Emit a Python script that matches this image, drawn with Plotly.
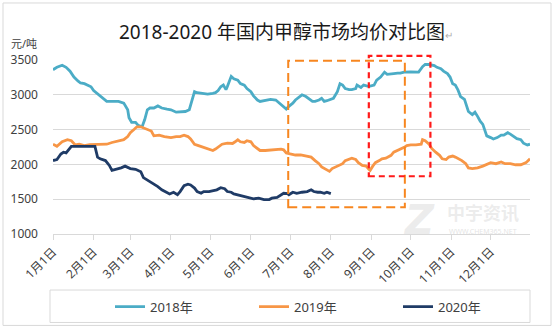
import plotly.graph_objects as go

# Day-of-year (0 = Jan 1) and average methanol price, yuan/ton
day_2018 = [0, 3, 7, 10, 13, 16, 19, 21, 24, 26, 29, 31, 35, 39, 41, 50, 54, 57, 58, 60,
            63, 65, 68, 70, 72, 74, 77, 80, 83, 87, 90, 94, 97, 101, 104, 106, 108, 110, 114, 118,
            122, 124, 126, 128, 130, 132, 133, 135, 136, 138, 141, 143, 146, 148, 151, 153, 156, 158, 162, 166,
            170, 172, 175, 178, 180, 183, 185, 188, 190, 193, 195, 198, 200, 203, 205, 207, 209, 212, 214, 217,
            219, 221, 223, 226, 228, 231, 232, 235, 237, 240, 242, 245, 247, 250, 253, 255, 258, 260, 263, 265,
            268, 273, 279, 282, 284, 287, 291, 293, 296, 298, 301, 303, 305, 307, 309, 311, 314, 315, 317, 320,
            322, 324, 326, 328, 330, 331, 334, 336, 339, 342, 344, 347, 349, 352, 354, 357, 359, 362, 364]
price_2018 = [3360, 3395, 3425, 3395, 3340, 3255, 3200, 3170, 3160, 3140, 3115, 3060, 3000, 2935, 2905, 2905, 2880, 2785, 2670, 2605,
              2605, 2560, 2540, 2645, 2785, 2810, 2810, 2840, 2810, 2795, 2785, 2750, 2750, 2760, 2785, 2905, 3045, 3030, 3020, 3010,
              3020, 3030, 3060, 3115, 3140, 3075, 3115, 3210, 3265, 3230, 3210, 3160, 3140, 3090, 3045, 2985, 2925, 2905, 2915, 2935,
              2925, 2890, 2840, 2795, 2835, 2880, 2925, 2975, 3000, 2975, 2950, 2905, 2905, 2925, 2950, 2905, 2915, 2935, 2950, 3045,
              3160, 3140, 3090, 3075, 3075, 3090, 3140, 3105, 3140, 3125, 3125, 3140, 3210, 3255, 3325, 3295, 3295, 3305, 3310, 3310,
              3325, 3330, 3325, 3405, 3435, 3435, 3420, 3395, 3375, 3340, 3305, 3255, 3160, 3140, 3070, 2975, 2935, 2880, 2760, 2715,
              2750, 2690, 2620, 2575, 2480, 2410, 2385, 2365, 2385, 2420, 2420, 2455, 2435, 2400, 2370, 2355, 2305, 2280, 2290]

day_2019 = [0, 3, 7, 11, 14, 17, 20, 24, 28, 33, 38, 41, 45, 50, 54, 57, 59, 62, 64, 67,
            69, 72, 75, 77, 81, 85, 90, 94, 97, 100, 103, 105, 108, 111, 115, 119, 122, 124, 127, 129,
            133, 137, 139, 141, 143, 146, 148, 151, 153, 156, 158, 162, 166, 170, 174, 176, 178, 181, 185, 189,
            193, 197, 200, 203, 205, 208, 211, 213, 216, 218, 221, 223, 226, 228, 231, 233, 236, 239, 241, 242,
            244, 246, 249, 251, 254, 256, 258, 260, 263, 265, 268, 270, 273, 277, 281, 282, 284, 287, 289, 292,
            295, 297, 300, 302, 305, 307, 310, 312, 315, 317, 320, 324, 328, 330, 334, 338, 342, 345, 349, 353,
            357, 361, 364]
price_2019 = [2290, 2260, 2325, 2355, 2340, 2280, 2290, 2270, 2285, 2285, 2290, 2290, 2315, 2340, 2355, 2400, 2455, 2505, 2540, 2540,
              2525, 2505, 2480, 2410, 2420, 2400, 2385, 2400, 2400, 2420, 2400, 2365, 2290, 2270, 2245, 2210, 2200, 2220, 2260, 2290,
              2305, 2300, 2325, 2355, 2325, 2315, 2340, 2325, 2270, 2220, 2200, 2200, 2210, 2220, 2220, 2210, 2165, 2150, 2135, 2135,
              2120, 2105, 2055, 2010, 1965, 1930, 1900, 1940, 1965, 1975, 2010, 2055, 2080, 2090, 2070, 2025, 1985, 1975, 1930, 1915,
              1975, 2025, 2055, 2080, 2090, 2105, 2130, 2175, 2200, 2220, 2245, 2270, 2280, 2280, 2290, 2355, 2340, 2290, 2230, 2175,
              2130, 2080, 2070, 2105, 2120, 2105, 2080, 2055, 2010, 1950, 1940, 1950, 1975, 1995, 2025, 2010, 2035, 2010, 2010, 1995,
              1995, 2025, 2080]

day_2020 = [0, 3, 6, 8, 10, 12, 14, 17, 32, 34, 36, 40, 43, 45, 49, 52, 55, 59, 63, 67,
            69, 72, 76, 80, 83, 86, 89, 92, 95, 97, 100, 103, 105, 108, 110, 113, 115, 119, 123, 125,
            128, 131, 133, 136, 138, 142, 146, 150, 153, 157, 161, 165, 167, 171, 174, 176, 179, 180, 183, 186,
            190, 194, 197, 199, 202, 204, 207, 209, 212]
price_2020 = [2055, 2070, 2150, 2175, 2165, 2220, 2260, 2260, 2260, 2105, 2080, 2055, 1985, 1915, 1930, 1950, 1975, 1940, 1930, 1895,
              1810, 1775, 1730, 1680, 1635, 1600, 1575, 1600, 1565, 1610, 1695, 1715, 1705, 1660, 1610, 1585, 1610, 1610, 1620, 1635,
              1665, 1650, 1610, 1600, 1575, 1555, 1540, 1525, 1505, 1515, 1495, 1495, 1515, 1525, 1565, 1585, 1580, 1565, 1600, 1585,
              1600, 1610, 1635, 1610, 1600, 1600, 1585, 1600, 1580]

month_days = [0, 31, 59, 90, 120, 151, 181, 212, 243, 273, 304, 334]
month_labels = ["1月1日", "2月1日", "3月1日", "4月1日", "5月1日", "6月1日",
                "7月1日", "8月1日", "9月1日", "10月1日", "11月1日", "12月1日"]

# Highlighted periods (day range, price range)
box_orange = dict(d0=179.5, d1=268.5, p0=1385, p1=3490)
box_red = dict(d0=241, d1=288, p0=1830, p1=3560)

Y_MIN, Y_MAX = 1000, 3500
W, H = 554, 334
L, R, T, B = 53, 530, 60, 237


def px_x(x):
    return (x - L) / (R - L)


def px_y(y):
    return (B - y) / (B - T)


def val_y(v):
    return (v - Y_MIN) / (Y_MAX - Y_MIN)


FONT = "Noto Sans, Noto Sans CJK SC, sans-serif"
TXT = "#404040"
GRID = "#d9d9d9"
MARK = "rgba(200,200,200,0.35)"

fig = go.Figure()
for name, d, p, c in [("2018年", day_2018, price_2018, "#4bacc6"),
                      ("2019年", day_2019, price_2019, "#f79646"),
                      ("2020年", day_2020, price_2020, "#1f3b66")]:
    fig.add_trace(go.Scatter(x=d, y=p, mode="lines", name=name,
                             line=dict(color=c, width=2.8)))

shapes = [
    # outer frame
    dict(type="rect", xref="paper", yref="paper", x0=px_x(3), x1=px_x(551),
         y0=px_y(330), y1=px_y(2), line=dict(color=GRID, width=1), layer="below"),
    # legend frame
    dict(type="rect", xref="paper", yref="paper", x0=px_x(50), x1=px_x(530),
         y0=px_y(327), y1=px_y(294), line=dict(color=GRID, width=1), layer="below"),
    dict(type="rect", xref="x", yref="paper", x0=box_orange["d0"], x1=box_orange["d1"],
         y0=val_y(box_orange["p0"]), y1=val_y(box_orange["p1"]),
         line=dict(color="#f7861f", width=2, dash="9px,5px")),
    dict(type="rect", xref="x", yref="paper", x0=box_red["d0"], x1=box_red["d1"],
         y0=val_y(box_red["p0"]), y1=val_y(box_red["p1"]),
         line=dict(color="#ff1a1a", width=2.2, dash="6px,4px")),
]


def note(text, x, y, size, color, family=FONT):
    return dict(text=text, xref="paper", yref="paper", x=px_x(x), y=px_y(y),
                xanchor="center", yanchor="middle", showarrow=False,
                font=dict(size=size, color=color, family=family))


annotations = [
    note("元/吨", 23.5, 43, 11, TXT),
    note("<b><i>Z</i></b>", 419, 223, 40, MARK, "DejaVu Sans"),
    note("<b>中宇资讯</b>", 483, 216, 18, MARK),
    note("WWW.CHEM365.NET", 483, 234, 7, "rgba(200,200,200,0.5)"),
]

fig.update_layout(
    width=W, height=H,
    margin=dict(l=L, r=W - R, t=T, b=H - B),
    paper_bgcolor="white", plot_bgcolor="white",
    font=dict(family=FONT, size=12, color=TXT),
    title=dict(text="2018-2020 年国内甲醇市场均价对比图<span style='font-size:10px;color:#b0b0b0'>↵</span>",
               x=286 / W, xref="container", xanchor="center",
               y=1 - 32 / H, yref="container", yanchor="middle",
               font=dict(size=19, color="#1a1a1a", family=FONT)),
    xaxis=dict(range=[0, 364], tickmode="array", tickvals=month_days, ticktext=month_labels,
               tickangle=-45, ticks="outside", ticklen=5, tickcolor=GRID,
               showline=True, linecolor=GRID, linewidth=1, showgrid=False, zeroline=False,
               tickfont=dict(size=12, color=TXT), automargin=False),
    yaxis=dict(range=[Y_MIN, Y_MAX], dtick=500, tick0=1000, showgrid=True, gridcolor=GRID,
               gridwidth=1, zeroline=False, showline=False, ticks="",
               ticklabelstandoff=14, tickfont=dict(size=12, color=TXT), automargin=False),
    legend=dict(orientation="h", x=px_x(110), xanchor="left", y=px_y(311), yanchor="middle",
                entrywidth=99, entrywidthmode="pixels", font=dict(size=13, color=TXT),
                bgcolor="rgba(0,0,0,0)", borderwidth=0),
    shapes=shapes,
    annotations=annotations,
    showlegend=True,
)

fig.write_html("out.html")
